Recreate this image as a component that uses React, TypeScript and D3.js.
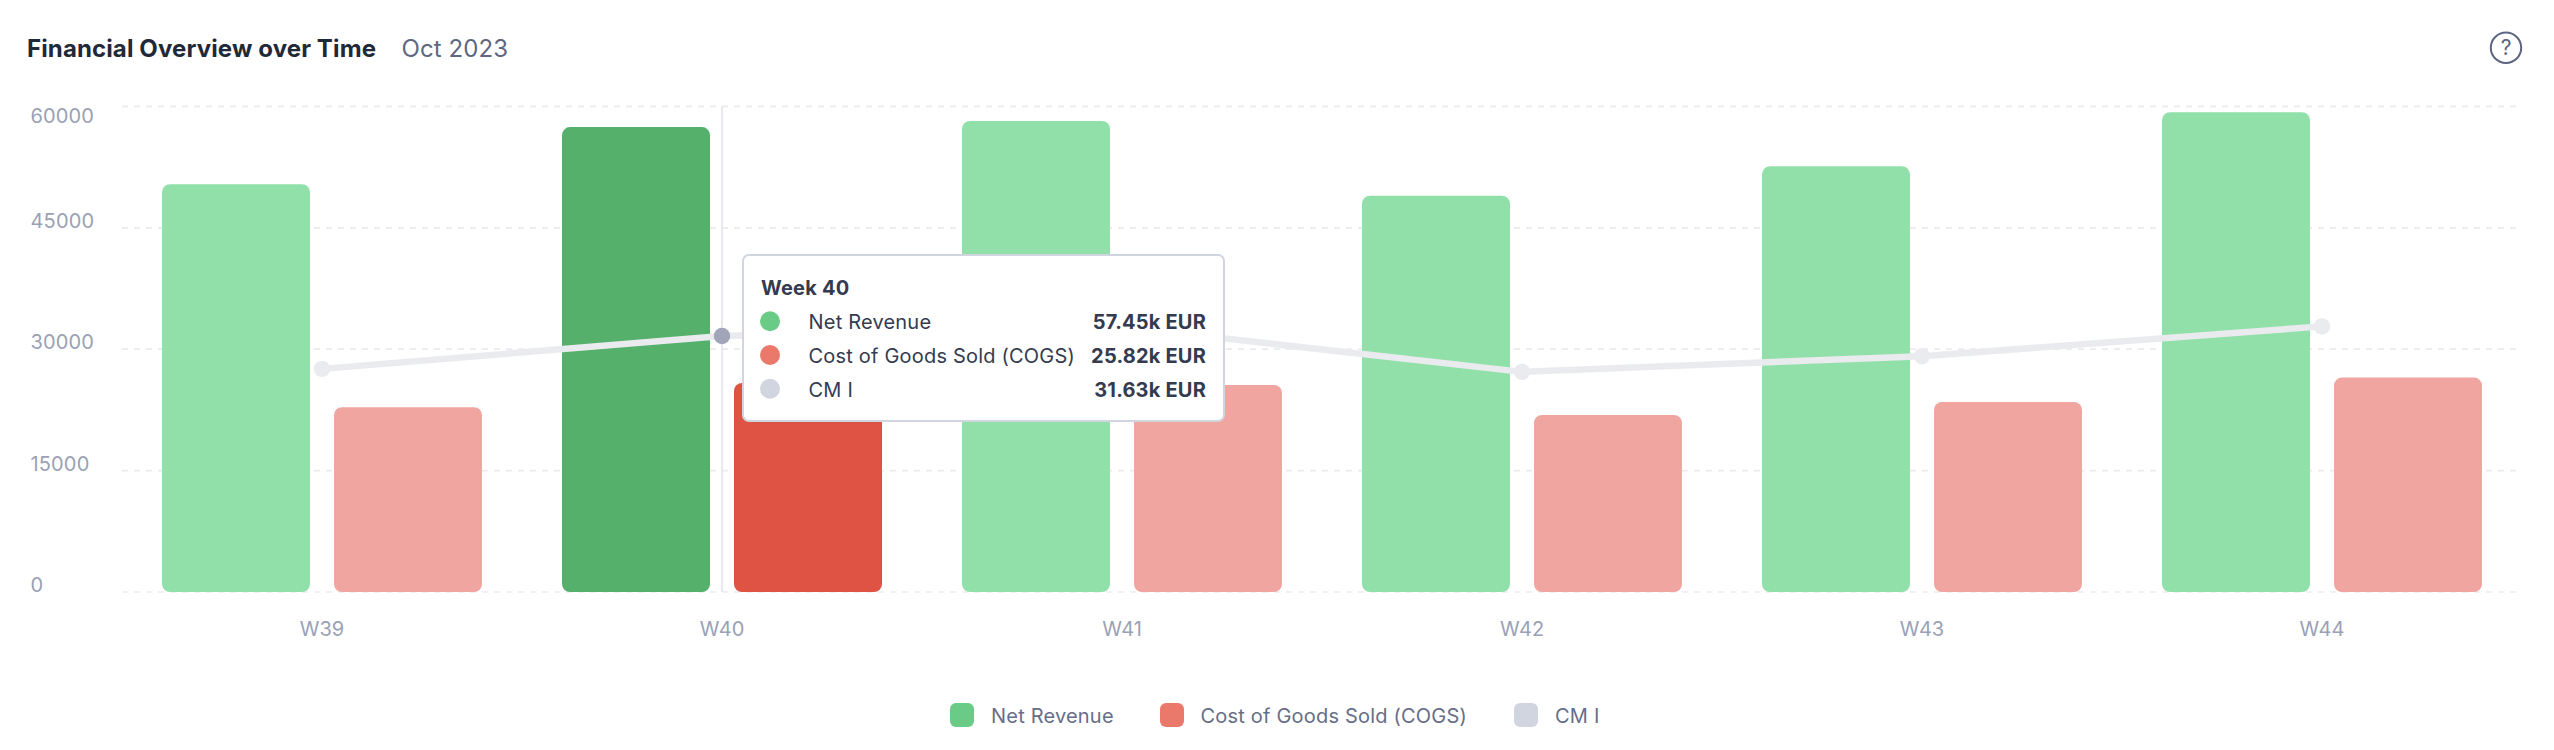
import React from "react";
import * as d3 from "d3";

const weeks = ["W39", "W40", "W41", "W42", "W43", "W44"];
const netRevenue = [50390, 57450, 58200, 48960, 52590, 59280];
const cogs = [22830, 25820, 25590, 21870, 23480, 26490];
const cmI = [27570, 31630, 32740, 27200, 29130, 32820];
const yTicks = [0, 15000, 30000, 45000, 60000];
const activeWeek = "W40";
const tooltipTitle = "Week 40";
const tooltipRows = [
  { label: "Net Revenue", value: "57.45k EUR", color: "#69cb85" },
  { label: "Cost of Goods Sold (COGS)", value: "25.82k EUR", color: "#ea796b" },
  { label: "CM I", value: "31.63k EUR", color: "#d1d5df" },
];
const legendItems = [
  { label: "Net Revenue", color: "#69cb85", x: 950, tx: 991 },
  { label: "Cost of Goods Sold (COGS)", color: "#ea796b", x: 1160, tx: 1200.5 },
  { label: "CM I", color: "#d1d5df", x: 1514, tx: 1555 },
];

const FONT = "Inter, 'Noto Sans', sans-serif";

export default function App() {
  const x = d3.scaleBand<string>().domain(weeks).range([122, 2522]).padding(0);
  const inner = d3
    .scaleBand<string>()
    .domain(["rev", "cogs"])
    .range([40, 360])
    .paddingInner(24 / 172);
  const y = d3.scaleLinear().domain([0, 60000]).range([592, 106.4]);
  const cx = (w: string) => (x(w) as number) + x.bandwidth() / 2;
  const line = d3
    .line<number>()
    .x((_, i) => cx(weeks[i]))
    .y((d) => y(d));

  return (
    <svg
      width={2554}
      height={750}
      viewBox="0 0 2554 750"
      style={{ position: "absolute", left: 0, top: 0, display: "block", background: "#fff", fontFamily: FONT }}
    >
      <text x={27} y={56.5} fontSize={24} fontWeight={700} fill="#1f2937" letterSpacing={0.12}>
        Financial Overview over Time
      </text>
      <text x={401.5} y={56.5} fontSize={24} fontWeight={400} fill="#5f6780" letterSpacing={0.1}>
        Oct 2023
      </text>

      <circle cx={2506} cy={47.7} r={15.2} fill="none" stroke="#5b6480" strokeWidth={2} />
      <text x={2506} y={55} fontSize={21} textAnchor="middle" fill="#5b6480">
        ?
      </text>

      {yTicks.map((t) => (
        <g key={t}>
          <line x1={122} x2={2516} y1={y(t)} y2={y(t)} stroke="#ebebee" strokeWidth={1.7} strokeDasharray="6 6" />
          <text x={30.5} y={t === 60000 ? y(t) + 17 : y(t)} fontSize={20} fill="#9aa1b5" letterSpacing={0.15}>
            {t}
          </text>
        </g>
      ))}

      <line x1={cx(activeWeek)} x2={cx(activeWeek)} y1={y(60000)} y2={y(0)} stroke="#e2e4ea" strokeWidth={1.6} />

      {weeks.map((w, i) => {
        const active = w === activeWeek;
        const left = x(w) as number;
        return (
          <g key={w}>
            <rect
              x={left + (inner("rev") as number)}
              y={y(netRevenue[i])}
              width={inner.bandwidth()}
              height={y(0) - y(netRevenue[i])}
              rx={8}
              fill={active ? "#55b06c" : "#91e0a9"}
            />
            <rect
              x={left + (inner("cogs") as number)}
              y={y(cogs[i])}
              width={inner.bandwidth()}
              height={y(0) - y(cogs[i])}
              rx={8}
              fill={active ? "#df5344" : "#f0a5a0"}
            />
            <text x={cx(w)} y={636} fontSize={20} textAnchor="middle" fill="#9aa1b5">
              {w}
            </text>
          </g>
        );
      })}

      <path d={line(cmI) as string} fill="none" stroke="#eaebef" strokeWidth={6.5} />
      {weeks.map((w, i) => (
        <circle
          key={w}
          cx={cx(w)}
          cy={y(cmI[i])}
          r={8.2}
          fill={w === activeWeek ? "#a0a5b8" : "#eaebef"}
        />
      ))}

      <g>
        <rect x={743} y={255} width={481} height={166} rx={6} fill="#fff" stroke="#d1d5df" strokeWidth={2} />
        <text x={761} y={295} fontSize={20} fontWeight={700} fill="#343b4f" letterSpacing={0.2}>
          {tooltipTitle}
        </text>
        {tooltipRows.map((r, i) => (
          <g key={r.label}>
            <circle cx={770} cy={321.3 + i * 33.7} r={10} fill={r.color} />
            <text x={808.5} y={329 + i * 34} fontSize={20} fill="#343b4f" letterSpacing={0.2}>
              {r.label}
            </text>
            <text x={1206} y={329 + i * 34} fontSize={20} fontWeight={700} textAnchor="end" fill="#343b4f" letterSpacing={0.2}>
              {r.value}
            </text>
          </g>
        ))}
      </g>

      {legendItems.map((l) => (
        <g key={l.label}>
          <rect x={l.x} y={703} width={24} height={24} rx={6} fill={l.color} />
          <text x={l.tx} y={722.5} fontSize={20} fill="#666e88" letterSpacing={0.2}>
            {l.label}
          </text>
        </g>
      ))}
    </svg>
  );
}
